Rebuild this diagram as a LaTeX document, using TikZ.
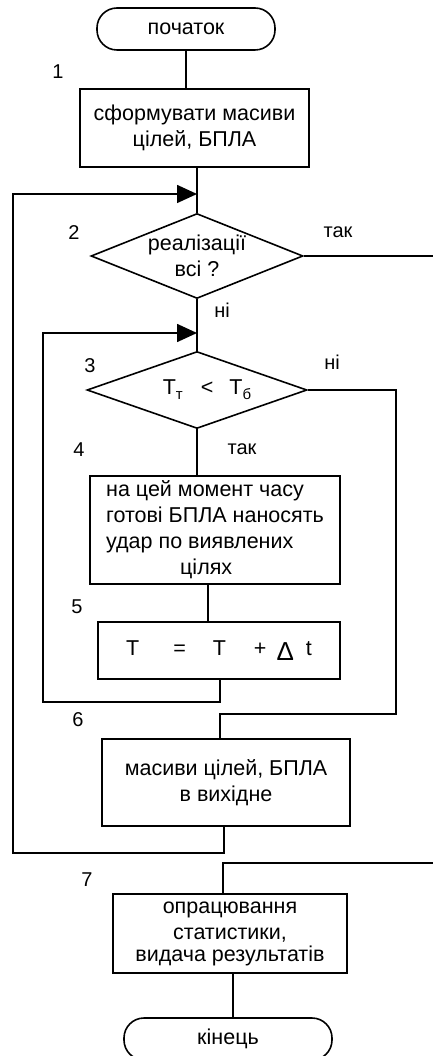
\documentclass[tikz,border=0pt]{standalone}
\usepackage{fontspec}
\setmainfont{Liberation Sans}
\usepackage{tikz}
\usetikzlibrary{shapes.geometric, arrows.meta, positioning, calc}

\newcommand{\boxfont}{\fontsize{21.5}{26}\selectfont}
\newcommand{\numfont}{\fontsize{20}{20}\selectfont}
\newcommand{\lowidx}[1]{\raisebox{-5pt}{\fontsize{15}{15}\selectfont #1}}

\begin{document}
\begin{tikzpicture}[x=1pt, y=-1pt,
    procbox/.style={draw, line width=1.6pt, rectangle, inner sep=0pt, align=center, font=\boxfont},
    termbox/.style={draw, line width=1.6pt, rectangle, rounded corners=20pt, inner sep=0pt, font=\boxfont},
    decbox/.style={draw, line width=1.6pt, diamond, shape aspect=2.5, inner sep=0pt, align=center, font=\boxfont},
    numlabel/.style={inner sep=0pt, font=\numfont},
    link/.style={line width=1.6pt},
    flow/.style={line width=1.6pt, -{Triangle[length=20pt, width=18pt]}}]
  \useasboundingbox (0, 0) rectangle (432, 1056);

  % Blocks
  \node[termbox, minimum width=178pt, minimum height=42pt] (start) at (186, 29) {початок};
  \node[procbox, minimum width=229pt, minimum height=78pt] (box1) at (194.5, 128)
    {сформувати масиви\\цілей, БПЛА};
  \node[decbox, minimum width=212pt, minimum height=85pt] (dec2) at (197, 256)
    {реалізації\\всі ?};
  \node[decbox, minimum width=220pt, minimum height=77pt] (dec3) at (197, 390)
    {\hspace*{20pt}T\lowidx{т}\hspace{18pt}<\hspace{16pt}T\lowidx{б}};
  \node[procbox, align=left, minimum width=250pt, minimum height=108pt] (box4) at (215, 530)
    {на цей момент часу\\готові БПЛА наносять\\удар по виявлених\\\hspace*{74pt}цілях};
  \node[procbox, minimum width=242pt, minimum height=57pt] (box5) at (219, 650.5)
    {T\hspace{34pt}=\hspace{27pt}T\hspace{28pt}+\hspace{10pt}\raisebox{-5pt}{\fontsize{26}{26}\selectfont Δ}\hspace{12pt}t};
  \node[procbox, minimum width=248pt, minimum height=87pt] (box6) at (226, 782.5)
    {масиви цілей, БПЛА\\в вихідне};
  \node[procbox, minimum width=234pt, minimum height=79pt] (box7) at (230, 933.5)
    {опрацювання\\статистики,\\[-4pt]видача результатів};
  \node[termbox, minimum width=208pt, minimum height=42pt] (finish) at (228, 1039) {кінець};

  % Step numbers and answers
  \node[numlabel] (lab1) at (58, 72) {1};
  \node[numlabel] (lab2) at (74, 233) {2};
  \node[numlabel] (yes2) at (338, 232) {так};
  \node[numlabel] (no2) at (222, 310) {ні};
  \node[numlabel] (lab3) at (90, 366) {3};
  \node[numlabel] (no3) at (332, 362) {ні};
  \node[numlabel] (lab4) at (79, 450) {4};
  \node[numlabel] (yes3) at (242, 449) {так};
  \node[numlabel] (lab5) at (77, 607) {5};
  \node[numlabel] (lab6) at (78, 720) {6};
  \node[numlabel] (lab7) at (87, 880) {7};

  % Bends
  \coordinate (join2) at (197, 194);
  \coordinate (join3) at (197, 333);
  \coordinate (inner) at (43, 702);
  \coordinate (outer) at (13, 853);
  \coordinate (bend6) at (396, 714);
  \coordinate (bend7) at (440, 863);

  % Main line
  \draw[link] (start.south) -- (start.south |- box1.north);
  \draw[link] (box1.south -| dec2.north) -- (dec2.north);
  \draw[link] (dec2.south) -- (dec3.north);
  \draw[link] (dec3.south) -- (dec3.south |- box4.north);
  \draw[link] ([xshift=-7pt]box4.south) -- ([xshift=-7pt]box4.south |- box5.north);
  \draw[link] ([xshift=3pt]box7.south) -- ([xshift=3pt]box7.south |- finish.north);

  % Loops
  \draw[flow] ([xshift=1pt]box5.south) |- (inner) |- (join3);
  \draw[flow] ([xshift=-2pt]box6.south) |- (outer) |- (join2);

  % Exits
  \draw[link] (dec3.east) -| (bend6) -| ([xshift=-6pt]box6.north);
  \draw[link] (dec2.east) -| (bend7) -| ([xshift=-7pt]box7.north);
\end{tikzpicture}
\end{document}
